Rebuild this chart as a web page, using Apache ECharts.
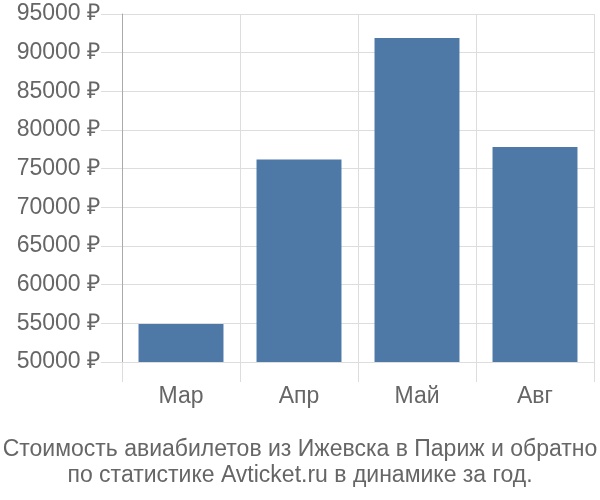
<!DOCTYPE html>
<html>
<head>
<meta charset="utf-8">
<script src="https://cdn.jsdelivr.net/npm/echarts@6/dist/echarts.min.js"></script>
<style>
html,body{margin:0;padding:0;background:#fff;}
#chart{width:600px;height:500px;}
</style>
</head>
<body>
<div id="chart"></div>
<script>
const categories = ['Мар', 'Апр', 'Май', 'Авг'];
const prices = [54900, 76200, 91900, 77800];
const yMin = 50000;
const yMax = 95000;
const yStep = 5000;
const titleLines = ['Стоимость авиабилетов из Ижевска в Париж и обратно', 'по статистике Avticket.ru в динамике за год.'];

const chart = echarts.init(document.getElementById('chart'), null, {renderer: 'canvas'});
const gridColor = '#dddddd';
const textColor = '#666666';
const fontFamily = '"Liberation Sans", Arial, sans-serif';

chart.setOption({
  animation: false,
  title: {
    text: titleLines.join('\n'),
    left: 'center',
    top: 432,
    textStyle: {
      color: textColor,
      fontSize: 23,
      fontWeight: 'normal',
      fontFamily: fontFamily,
      lineHeight: 26
    }
  },
  grid: {left: 122, right: 6, top: 14, bottom: 138},
  xAxis: {
    type: 'category',
    data: categories,
    boundaryGap: true,
    axisLine: {show: true, lineStyle: {color: gridColor, width: 1}},
    axisTick: {show: true, length: 20, interval: 0, lineStyle: {color: gridColor}},
    splitLine: {show: true, interval: 0, lineStyle: {color: gridColor, width: 1}},
    axisLabel: {color: textColor, fontSize: 23, fontFamily: fontFamily, margin: 23}
  },
  yAxis: {
    type: 'value',
    min: yMin,
    max: yMax,
    interval: yStep,
    axisLine: {show: true, lineStyle: {color: '#aaaaaa', width: 1}},
    axisTick: {show: true, length: 21, lineStyle: {color: gridColor}},
    splitLine: {show: true, lineStyle: {color: gridColor, width: 1}},
    axisLabel: {
      color: textColor, fontSize: 23, fontFamily: fontFamily, margin: 22,
      formatter: v => v + ' ₽'
    }
  },
  series: [{
    type: 'bar',
    data: prices,
    barCategoryGap: '28%',
    itemStyle: {color: '#4e79a7'}
  }]
});
</script>
</body>
</html>
